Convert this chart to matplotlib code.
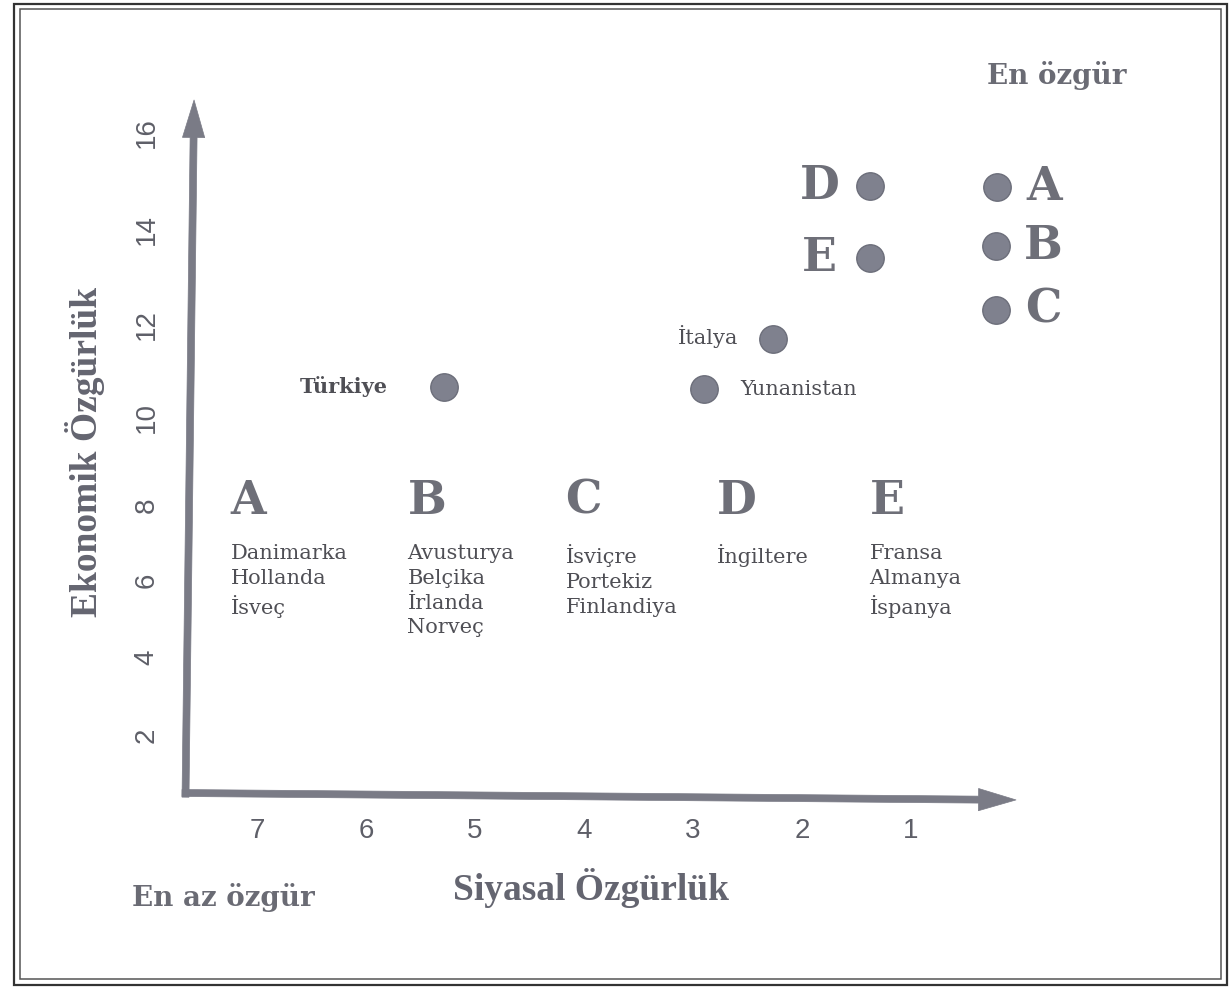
import numpy as np
import matplotlib.pyplot as plt
from matplotlib.patches import Rectangle

# Siyasal özgürlük (1 = en özgür) ve ekonomik özgürlük değerleri
country_names = ['Türkiye', 'İtalya', 'Yunanistan']
country_pol = [5.28, 2.27, 2.90]
country_eco = [10.67, 11.70, 10.62]

group_names = ['A', 'B', 'C', 'D', 'E']
group_pol = [0.21, 0.22, 0.22, 1.38, 1.38]
group_eco = [14.89, 13.66, 12.32, 14.91, 13.41]

group_members = [
    ['Danimarka', 'Hollanda', 'İsveç'],
    ['Avusturya', 'Belçika', 'İrlanda', 'Norveç'],
    ['İsviçre', 'Portekiz', 'Finlandiya'],
    ['İngiltere'],
    ['Fransa', 'Almanya', 'İspanya'],
]
legend_pol = [7.24, 5.62, 4.17, 2.78, 1.38]

x_ticks = [7, 6, 5, 4, 3, 2, 1]
y_ticks = [2, 4, 6, 8, 10, 12, 14, 16]

# the printed economic axis is not evenly spaced
y_knots = [-2, 0, 2, 4, 6, 8, 10, 12, 14, 16, 18, 20]
y_spacing = [0, 78, 156, 234, 311, 386, 473, 566, 661, 758, 855, 952]

GRAY = '#7a7b86'
TEXT = '#4f4f55'
LETTER = '#6e6f78'
TITLE = '#646570'

W, H = 1231, 989
fig = plt.figure(figsize=(W / 100, H / 100), dpi=100)
ax = fig.add_axes([186 / W, 1 - 793 / H, (1016 - 186) / W, (793 - 100) / H])
ax.set_yscale('function', functions=(lambda v: np.interp(v, y_knots, y_spacing),
                                     lambda w: np.interp(w, y_spacing, y_knots)))
ax.set_xlim(7.651, 0.037)
ax.set_ylim(0.51, 16.68)
for s in ax.spines.values():
    s.set_visible(False)

# axis arrows (slightly skewed like the printed drawing)
arrow = dict(arrowstyle='simple,head_length=2.7,head_width=1.6,tail_width=0.5',
             lw=0.5, color=GRAY, shrinkA=0, shrinkB=0, mutation_scale=10)
ax.annotate('', xy=(0.0097, 1), xytext=(-0.0006, -0.006), xycoords='axes fraction',
            arrowprops=arrow, annotation_clip=False)
ax.annotate('', xy=(1, -0.01), xytext=(-0.0048, 0), xycoords='axes fraction',
            arrowprops=arrow, annotation_clip=False)

ax.set_xticks(x_ticks)
ax.set_xticklabels([str(t) for t in x_ticks])
ax.set_yticks(y_ticks)
ax.set_yticklabels([str(t) for t in y_ticks])
ax.yaxis.set_minor_locator(plt.NullLocator())
ax.tick_params(axis='x', length=0, pad=18, labelsize=20, labelcolor='#5e5f68')
ax.tick_params(axis='y', length=0, pad=19, labelsize=20, labelcolor='#5e5f68',
               labelrotation=90)
for lab in ax.get_xticklabels() + ax.get_yticklabels():
    lab.set_family('Liberation Sans')
for lab in ax.get_yticklabels():
    lab.set_verticalalignment('center')

# points
ax.scatter(country_pol, country_eco, s=390, color='#7f818e', edgecolor='#6c6e7a',
           lw=1, zorder=3, clip_on=False)
ax.scatter(group_pol, group_eco, s=390, color='#7f818e', edgecolor='#6c6e7a',
           lw=1, zorder=3, clip_on=False)

offsets = {'Türkiye': (-41, 0, 'right', 'bold'),
           'İtalya': (-25, 2, 'right', 'normal'),
           'Yunanistan': (26, 0, 'left', 'normal')}
for name, x, y in zip(country_names, country_pol, country_eco):
    dx, dy, ha, wt = offsets[name]
    ax.annotate(name, (x, y), xytext=(dx, dy), textcoords='offset points',
                ha=ha, va='center', fontsize=15, fontweight=wt,
                family='DejaVu Serif', color=TEXT)

for name, x, y in zip(group_names, group_pol, group_eco):
    dx = -36 if name in ('D', 'E') else 34
    ax.annotate(name, (x, y), xytext=(dx, 0), textcoords='offset points',
                ha='center', va='center', fontsize=33, fontweight='bold',
                family='DejaVu Serif', color=LETTER, annotation_clip=False)

# group legend
for name, x, members in zip(group_names, legend_pol, group_members):
    ax.text(x, 8.1, name, ha='left', va='center', fontsize=33, fontweight='bold',
            family='DejaVu Serif', color=LETTER)
    ax.text(x, 6.95, '\n'.join(members), ha='left', va='top', fontsize=15,
            family='DejaVu Serif', color=TEXT, linespacing=1.38)

# titles
fig.text(591 / W, 1 - 888 / H, 'Siyasal Özgürlük', ha='center', va='center',
         fontsize=27, fontweight='bold', family='Liberation Serif', color=TITLE)
fig.text(85 / W, 1 - 452 / H, 'Ekonomik Özgürlük', ha='center', va='center',
         rotation=90, fontsize=27, fontweight='bold', family='Liberation Serif',
         color=TITLE)
fig.text(1057 / W, 1 - 75 / H, 'En özgür', ha='center', va='center',
         fontsize=20, fontweight='bold', family='DejaVu Serif', color='#6a6b74')
fig.text(223 / W, 1 - 897 / H, 'En az özgür', ha='center', va='center',
         fontsize=20, fontweight='bold', family='DejaVu Serif', color='#6a6b74')

# double frame
fig.add_artist(Rectangle((14 / W, 1 - 985 / H), (1227 - 14) / W, (985 - 4) / H,
                         transform=fig.transFigure, fill=False, lw=1.6, color='#333333'))
fig.add_artist(Rectangle((20 / W, 1 - 979 / H), (1221 - 20) / W, (979 - 9) / H,
                         transform=fig.transFigure, fill=False, lw=1.1, color='#555555'))

fig.savefig('out.png', dpi=100)
